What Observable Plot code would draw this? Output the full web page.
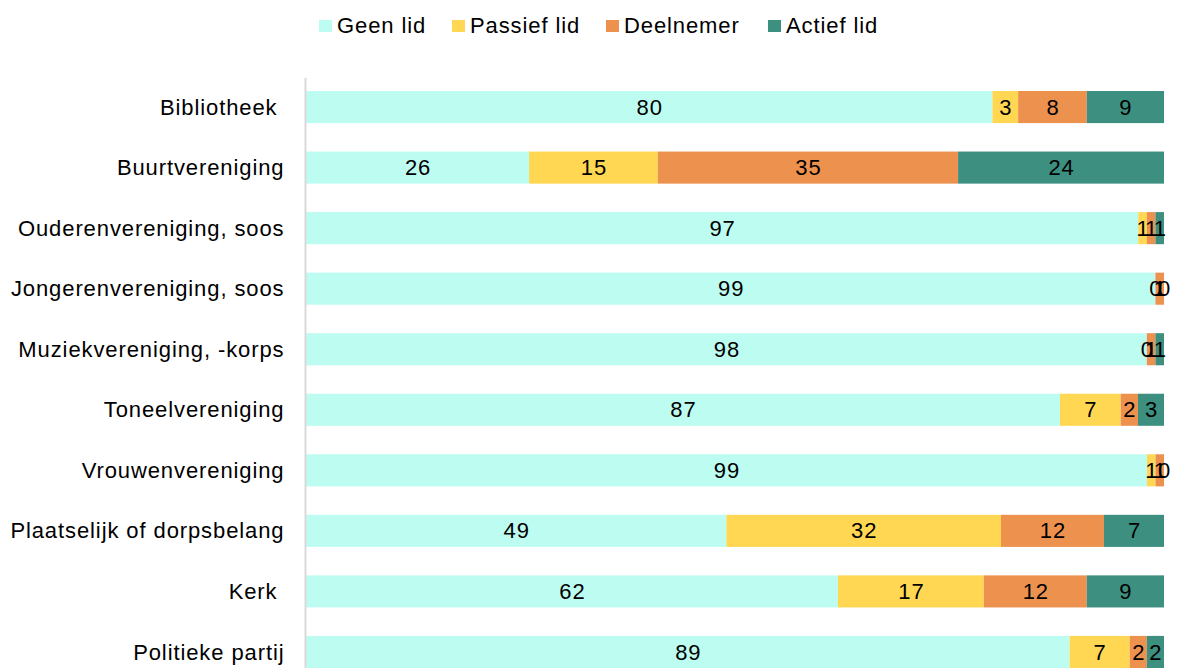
<!DOCTYPE html>
<html>
<head>
<meta charset="utf-8">
<script src="https://cdn.jsdelivr.net/npm/d3@7"></script>
<script src="https://cdn.jsdelivr.net/npm/@observablehq/plot@0.6"></script>
<style>
  html, body { margin: 0; padding: 0; background: #fff; overflow: hidden; }
  body { width: 1177px; height: 668px; font-family: "Liberation Sans", Arial, sans-serif; }
  #legend { position: relative; height: 50px; font-size: 22px; letter-spacing: 0.9px; color: #000; }
  #legend .item { position: absolute; top: 12px; display: flex; align-items: center; white-space: nowrap; line-height: 28px; }
  #legend .sw { width: 13px; height: 12px; margin-right: 5px; display: inline-block; }
  svg text { letter-spacing: 0.9px; }
</style>
</head>
<body>
<div id="legend"></div>
<div id="chart"></div>
<script>
const categories = [
  "Bibliotheek ",
  "Buurtvereniging",
  "Ouderenvereniging, soos",
  "Jongerenvereniging, soos",
  "Muziekvereniging, -korps",
  "Toneelvereniging",
  "Vrouwenvereniging",
  "Plaatselijk of dorpsbelang",
  "Kerk ",
  "Politieke partij"
];
const seriesNames = ["Geen lid", "Passief lid", "Deelnemer", "Actief lid"];
const geenLid    = [80, 26, 97, 99, 98, 87, 99, 49, 62, 89];
const passiefLid = [ 3, 15,  1,  0,  0,  7,  1, 32, 17,  7];
const deelnemer  = [ 8, 35,  1,  1,  1,  2,  1, 12, 12,  2];
const actiefLid  = [ 9, 24,  1,  0,  1,  3,  0,  7,  9,  2];
const colors = ["#bdfcf1", "#ffd753", "#ed914f", "#3d8f80"];

const seriesValues = [geenLid, passiefLid, deelnemer, actiefLid];
const data = [];
categories.forEach((c, i) => {
  seriesNames.forEach((s, j) => {
    data.push({category: c, series: s, value: seriesValues[j][i]});
  });
});

// legend (HTML, above the SVG)
const legendLeft = [319, 452, 606, 768];
const legend = document.getElementById("legend");
seriesNames.forEach((s, j) => {
  const it = document.createElement("div");
  it.className = "item";
  it.style.left = legendLeft[j] + "px";
  it.innerHTML = `<span class="sw" style="background:${colors[j]}"></span><span>${s}</span>`;
  legend.appendChild(it);
});

const stackOpts = {x: "value", y: "category", z: "series", order: seriesNames, offset: "normalize"};

const chart = Plot.plot({
  width: 1177,
  height: 631,
  marginLeft: 306,
  marginRight: 13,
  marginTop: 28,
  marginBottom: 0,
  style: {fontFamily: "'Liberation Sans', Arial, sans-serif", fontSize: "22px", color: "#000", background: "#fff"},
  x: {axis: null, domain: [0, 1]},
  y: {domain: categories, paddingInner: 0.47, paddingOuter: 0.2147, round: false, label: null},
  color: {domain: seriesNames, range: colors},
  marks: [
    Plot.barX(data, Plot.stackX({...stackOpts, fill: "series"})),
    Plot.text(data, Plot.stackX({...stackOpts, text: d => String(d.value), fill: "#000", fontSize: 22})),
    Plot.ruleX([0], {stroke: "#d9d9d9", strokeWidth: 2, dx: -1}),
    Plot.axisY({tickSize: 0, tickPadding: 22, fontSize: 22, tickFormat: d => d.replace(/ $/, "\u00a0"), label: null})
  ]
});
document.getElementById("chart").appendChild(chart);
</script>
</body>
</html>
